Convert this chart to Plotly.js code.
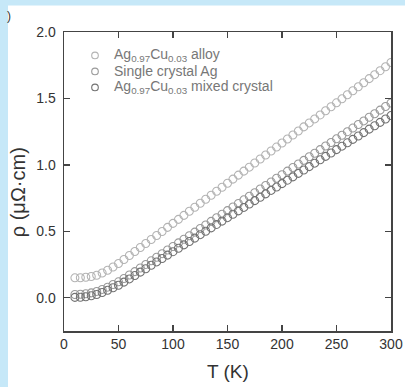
<!DOCTYPE html>
<html>
<head>
<meta charset="utf-8">
<script src="https://cdn.plot.ly/plotly-3.0.1.min.js"></script>
<style>html,body{margin:0;padding:0;background:#fff;}#chart{width:405px;height:387px;}</style>
</head>
<body>
<div id="chart"></div>
<script>
// Temperature (K)
const temperature = [10,15,20,25,30,35,40,45,50,55,60,65,70,75,80,85,90,95,100,
  105,110,115,120,125,130,135,140,145,150,155,160,165,170,175,180,185,190,195,200,
  205,210,215,220,225,230,235,240,245,250,255,260,265,270,275,280,285,290,295,300];

// Resistivity (μΩ·cm), Ag0.97Cu0.03 alloy
const rhoAlloy = [0.150,0.151,0.154,0.160,0.170,0.186,0.207,0.232,0.258,0.288,0.318,0.348,0.378,0.409,0.439,0.469,0.499,0.530,0.560,
  0.590,0.620,0.651,0.681,0.711,0.741,0.772,0.802,0.832,0.862,0.893,0.923,0.953,0.983,1.014,1.044,1.074,1.104,1.134,1.165,
  1.195,1.225,1.255,1.286,1.316,1.346,1.376,1.407,1.437,1.467,1.497,1.528,1.558,1.588,1.618,1.649,1.679,1.709,1.739,1.770];

// Single crystal Ag
const rhoSingleAg = [0.025,0.026,0.030,0.037,0.048,0.063,0.080,0.100,0.120,0.145,0.171,0.197,0.224,0.251,0.278,0.305,0.332,0.359,0.386,
  0.413,0.440,0.467,0.494,0.521,0.548,0.575,0.602,0.629,0.656,0.683,0.710,0.737,0.764,0.791,0.818,0.845,0.872,0.899,0.926,
  0.953,0.980,1.007,1.034,1.061,1.088,1.115,1.142,1.169,1.196,1.223,1.250,1.277,1.304,1.331,1.358,1.385,1.412,1.439,1.466];

// Ag0.97Cu0.03 mixed crystal
const rhoMixed = [0.003,0.004,0.008,0.015,0.025,0.040,0.056,0.075,0.094,0.118,0.142,0.167,0.193,0.219,0.245,0.270,0.296,0.321,0.347,
  0.373,0.398,0.424,0.449,0.475,0.501,0.526,0.552,0.577,0.603,0.629,0.654,0.680,0.705,0.731,0.757,0.782,0.808,0.833,0.859,
  0.885,0.910,0.936,0.961,0.987,1.013,1.038,1.064,1.089,1.115,1.141,1.166,1.192,1.217,1.243,1.269,1.294,1.320,1.345,1.371];

const seriesNames = [
  'Ag<sub>0.97</sub>Cu<sub>0.03</sub> alloy',
  'Single crystal Ag',
  'Ag<sub>0.97</sub>Cu<sub>0.03</sub> mixed crystal'
];
const xTicks = [0,50,100,150,200,250,300];
const yTicks = [0.0,0.5,1.0,1.5,2.0];

const FONT = 'Liberation Sans, Arial, Helvetica, sans-serif';
const colors = ['#b3b3b3','#9a9a9a','#727272'];
const ys = [rhoAlloy, rhoSingleAg, rhoMixed];

const traces = ys.map((y,i)=>({
  x: temperature, y: y, name: seriesNames[i], type: 'scatter', mode: 'markers',
  showlegend: false,
  marker: {symbol: 'circle-open', size: 8, color: colors[i], line: {width: 1.05, color: colors[i]}}
}));

const W = 405, H = 387, L = 64, R = 14, TOP = 31.5, B = 56;
const pw = W - L - R, ph = H - TOP - B;
const px = v => (v - L) / pw;
const py = v => (H - B - v) / ph;

// custom legend (pixel rows)
const legRows = [55, 71, 87];
const legMarkX = 95, legTextX = 112;
const legendShapes = legRows.map((r,i)=>({
  type: 'circle', xref: 'paper', yref: 'paper',
  x0: px(legMarkX - 3.3), x1: px(legMarkX + 3.3), y0: py(r + 3.3), y1: py(r - 3.3),
  line: {color: colors[i], width: 1.1}, fillcolor: 'rgba(0,0,0,0)'
}));
const legendTexts = legRows.map((r,i)=>({
  text: seriesNames[i], xref: 'paper', yref: 'paper', x: px(legTextX), y: py(r),
  xanchor: 'left', yanchor: 'middle', showarrow: false,
  font: {family: FONT, size: 14, color: '#777'}
}));

const layout = {
  width: W, height: H,
  margin: {l: L, r: R, t: TOP, b: B},
  paper_bgcolor: '#ffffff',
  plot_bgcolor: '#ffffff',
  showlegend: false,
  font: {family: FONT, color: '#333'},
  xaxis: {
    range: [0,300], tickvals: xTicks, ticktext: xTicks.map(String),
    ticks: 'inside', ticklen: 6, tickwidth: 1.3, tickcolor: '#444',
    showline: true, linecolor: '#444', linewidth: 1.5, mirror: 'ticks',
    showgrid: false, zeroline: false,
    tickfont: {family: FONT, size: 14, color: '#333'}
  },
  yaxis: {
    range: [-0.25,2.0], tickvals: yTicks, ticktext: yTicks.map(v=>v.toFixed(1)),
    ticks: 'inside', ticklen: 6, tickwidth: 1.3, tickcolor: '#444',
    showline: true, linecolor: '#444', linewidth: 1.5, mirror: 'ticks',
    showgrid: false, zeroline: false, ticklabelstandoff: 4,
    tickfont: {family: FONT, size: 14, color: '#333'}
  },
  shapes: [
    {type: 'rect', xref: 'paper', yref: 'paper', layer: 'below',
     x0: px(-5), x1: px(8), y0: py(H + 5), y1: py(-5),
     fillcolor: '#c6e8f8', line: {width: 0}},
    {type: 'rect', xref: 'paper', yref: 'paper', layer: 'below',
     x0: px(-5), x1: px(W + 5), y0: py(5), y1: py(-5),
     fillcolor: '#c6e8f8', line: {width: 0}}
  ].concat(legendShapes),
  annotations: [
    {text: 'ρ (μΩ·cm)', xref: 'paper', yref: 'paper', x: px(18), y: py(192),
     textangle: -90, showarrow: false, xanchor: 'center', yanchor: 'middle',
     font: {family: FONT, size: 20, color: '#333'}},
    {text: 'T (K)', xref: 'paper', yref: 'paper', x: px(228), y: py(372),
     showarrow: false, xanchor: 'center', yanchor: 'middle',
     font: {family: FONT, size: 19, color: '#333'}},
    {text: ')', xref: 'paper', yref: 'paper', x: px(9), y: py(15),
     showarrow: false, xanchor: 'center', yanchor: 'middle',
     font: {family: FONT, size: 12, color: '#333'}}
  ].concat(legendTexts)
};

Plotly.newPlot('chart', traces, layout, {displayModeBar: false, staticPlot: true});
</script>
</body>
</html>
